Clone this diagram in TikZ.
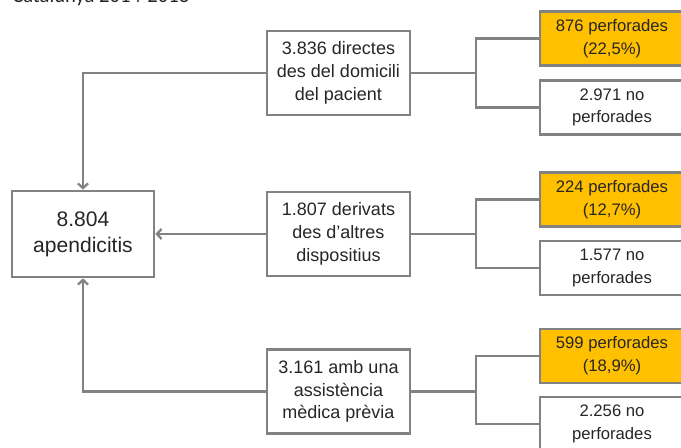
\documentclass[tikz,border=0pt]{standalone}
\usepackage{fontspec}
\setmainfont{Liberation Sans}
\newfontfamily\titlefont{Carlito}
\usetikzlibrary{positioning,arrows.meta,calc}
\definecolor{apGray}{RGB}{130,130,130}
\definecolor{apGold}{RGB}{255,192,0}
\definecolor{apText}{RGB}{38,38,38}

\begin{document}
\begin{tikzpicture}[x=0.75pt,y=-0.75pt,
  box/.style={draw=apGray, line width=2pt, fill=white, text=apText, align=center,
    inner sep=0pt, font=\fontsize{12.5}{17}\selectfont},
  srcbox/.style={box, minimum width=107.25pt, minimum height=63pt,
    font=\fontsize{13.5}{17}\selectfont},
  resbox/.style={box, minimum width=108pt, minimum height=40.5pt},
  perfbox/.style={resbox, fill=apGold},
  link/.style={apGray, line width=1.7pt},
  arr/.style={link, -{Straight Barb[length=3.5pt,width=7.5pt]}}]
  \useasboundingbox (0,0) rectangle (681,448);

  % title (cut at the top)
  \node[anchor=base west, inner sep=0pt, text=apText, font=\titlefont\fontsize{15.5}{17}\selectfont]
    (title) at (12,3) {Catalunya 2014-2018};

  % total
  \node[box, minimum width=106.5pt, minimum height=64.5pt, font=\fontsize{15.8}{19.5}\selectfont]
    (total) at (83,234) {8.804\\apendicitis};

  % origin of the patients
  \node[srcbox] (src1) at (338.5,73) {3.836 directes\\des del domicili\\del pacient};
  \node[srcbox] (src2) at (338.5,234) {1.807 derivats\\des d’altres\\dispositius};
  \node[srcbox] (src3) at (338.5,391.5) {3.161 amb una\\assistència\\mèdica prèvia};

  % perforated or not
  \node[perfbox] (perf1) at (612,38.5) {876 perforades\\(22,5\%)};
  \node[resbox]  (nop1)  at (612,107.5) {2.971 no\\perforades};
  \node[perfbox] (perf2) at (612,199.5) {224 perforades\\(12,7\%)};
  \node[resbox]  (nop2)  at (612,268) {1.577 no\\perforades};
  \node[perfbox] (perf3) at (612,356) {599 perforades\\(18,9\%)};
  \node[resbox]  (nop3)  at (612,424) {2.256 no\\perforades};

  % arrows into the total
  \draw[arr] (src1.west) -| (total.north);
  \draw[arr] (src2.west) -- (total.east);
  \draw[arr] (src3.west) -| (total.south);

  % brackets
  \foreach \i in {1,2,3} {
    \path (src\i.east) -- ++(65,0) coordinate (br\i);
    \draw[link] (src\i.east) -- (br\i);
    \draw[link] (perf\i.west) -| (br\i) |- (nop\i.west);
  }
\end{tikzpicture}
\end{document}
